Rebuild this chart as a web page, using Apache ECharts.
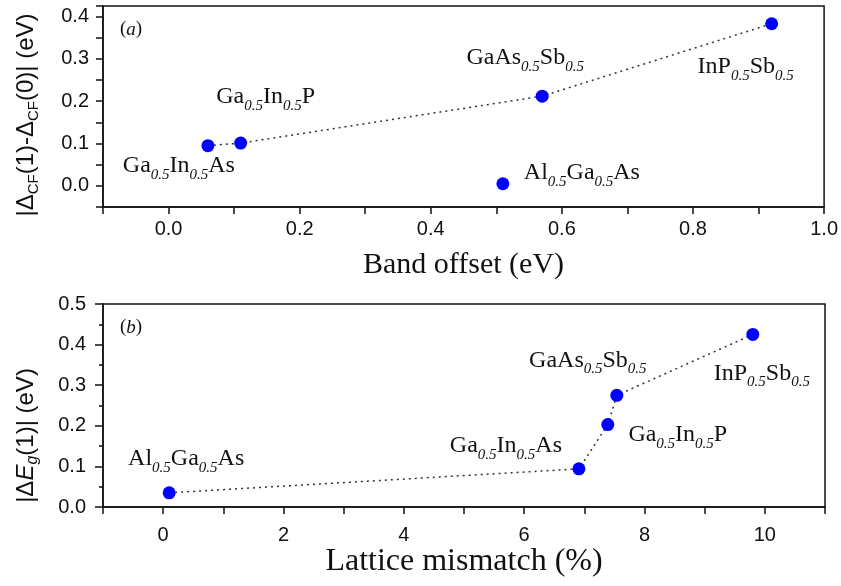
<!DOCTYPE html>
<html>
<head>
<meta charset="utf-8">
<script src="https://cdn.jsdelivr.net/npm/echarts@6/dist/echarts.min.js"></script>
<style>
  html, body { margin: 0; padding: 0; background: #fff; }
  #chart { width: 841px; height: 586px; }
</style>
</head>
<body>
<div id="chart"></div>
<script>
// (a) crystal-field splitting change vs band offset
const topMaterials = ['Ga_{0.5}In_{0.5}As', 'Ga_{0.5}In_{0.5}P', 'GaAs_{0.5}Sb_{0.5}', 'InP_{0.5}Sb_{0.5}', 'Al_{0.5}Ga_{0.5}As'];
const topBandOffset = [0.06, 0.11, 0.57, 0.92, 0.51];
const topDeltaCF = [0.095, 0.101, 0.212, 0.383, 0.005];
const topConnected = [true, true, true, true, false];

// (b) band gap change vs lattice mismatch
const bottomMaterials = ['Al_{0.5}Ga_{0.5}As', 'Ga_{0.5}In_{0.5}As', 'Ga_{0.5}In_{0.5}P', 'GaAs_{0.5}Sb_{0.5}', 'InP_{0.5}Sb_{0.5}'];
const bottomMismatch = [0.1, 6.91, 7.39, 7.54, 9.80];
const bottomDeltaEg = [0.035, 0.094, 0.203, 0.275, 0.425];

// label placement relative to each point (px), same order as the material arrays
const topLabelOffsets = [[-29, 20], [25, -46], [-17, -38], [-26, 43], [79, -11]];
const bottomLabelOffsets = [[17, -34], [-73, -23], [70, 10], [-29, -35], [9, 39]];

const serif = 'Liberation Serif';
const sans = 'Liberation Sans';
const ink = '#111';
const dotBlue = '#0000ff';

function richName(str) {
    return str.split(/(_\{[^}]*\})/).filter(Boolean)
        .map((p) => (p.startsWith('_{') ? `{s|${p.slice(2, -1)}}` : `{m|${p}}`))
        .join('');
}

const nameRich = {
    m: { fontFamily: serif, fontSize: 24, color: ink },
    s: { fontFamily: serif, fontSize: 15, fontStyle: 'italic', color: ink, padding: [18, 0, 0, 0] },
};

function point(x, y, name, offset) {
    return {
        value: [x, y],
        label: {
            show: true,
            position: 'inside',
            align: 'center',
            verticalAlign: 'middle',
            offset,
            color: ink,
            formatter: richName(name),
            rich: nameRich,
        },
    };
}

const topLine = [];
const topLoose = [];
topMaterials.forEach((m, i) => {
    const p = point(topBandOffset[i], topDeltaCF[i], m, topLabelOffsets[i]);
    (topConnected[i] ? topLine : topLoose).push(p);
});
const bottomLine = bottomMaterials.map((m, i) =>
    point(bottomMismatch[i], bottomDeltaEg[i], m, bottomLabelOffsets[i]));

const isStep = (v, step) => Math.abs(v / step - Math.round(v / step)) < 1e-6;

const axisCommon = {
    type: 'value',
    splitLine: { show: false },
    axisLine: { show: true, onZero: false, lineStyle: { color: ink, width: 1.5 } },
    axisTick: { show: true, length: 7, lineStyle: { color: ink, width: 1.5 } },
    axisLabel: { fontFamily: sans, fontSize: 20, color: ink },
};

const markerSeries = (data, xi, yi, withLine) => ({
    type: withLine ? 'line' : 'scatter',
    xAxisIndex: xi,
    yAxisIndex: yi,
    data,
    symbol: 'circle',
    symbolSize: 13,
    itemStyle: { color: dotBlue, opacity: 1 },
    lineStyle: { color: '#333', width: 1.5, type: [2, 4] },
    z: 3,
});

const chart = echarts.init(document.getElementById('chart'), null, { renderer: 'canvas' });

const option = {
    backgroundColor: '#fff',
    animation: false,
    grid: [
        { left: 103, right: 16, top: 6, height: 201, show: true, borderColor: ink, borderWidth: 1.5 },
        { left: 103, right: 16, top: 304, bottom: 79, show: true, borderColor: ink, borderWidth: 1.5 },
    ],
    xAxis: [
        {
            ...axisCommon,
            gridIndex: 0,
            min: -0.1,
            max: 1.0,
            interval: 0.1,
            axisLabel: {
                ...axisCommon.axisLabel,
                margin: 12,
                formatter: (v) => (v >= 0 && isStep(v, 0.2) ? v.toFixed(1) : ''),
            },
            name: 'Band offset (eV)',
            nameLocation: 'middle',
            nameGap: 43,
            nameTextStyle: { fontFamily: serif, fontSize: 30, color: ink },
        },
        {
            ...axisCommon,
            gridIndex: 1,
            min: -1,
            max: 11,
            interval: 1,
            axisLabel: {
                ...axisCommon.axisLabel,
                margin: 18,
                formatter: (v) => (v >= 0 && v <= 10 && isStep(v, 2) ? String(v) : ''),
            },
            name: 'Lattice mismatch (%)',
            nameLocation: 'middle',
            nameGap: 35,
            nameTextStyle: { fontFamily: serif, fontSize: 32, color: ink },
        },
    ],
    yAxis: [
        {
            ...axisCommon,
            gridIndex: 0,
            min: -0.05,
            max: 0.425,
            interval: 0.05,
            axisLabel: {
                ...axisCommon.axisLabel,
                margin: 14,
                formatter: (v) => (v >= 0 && isStep(v, 0.1) ? v.toFixed(1) : ''),
            },
            name: '{t||Δ}{u|CF}{t|(1)-Δ}{u|CF}{t|(0)| (eV)}',
            nameLocation: 'middle',
            nameGap: 62,
            nameTextStyle: {
                padding: [0, 17, 0, 0],
                rich: {
                    t: { fontFamily: sans, fontSize: 24, color: ink },
                    u: { fontFamily: sans, fontSize: 15, color: ink, padding: [14, 0, 0, 0] },
                },
            },
        },
        {
            ...axisCommon,
            gridIndex: 1,
            min: 0,
            max: 0.5,
            interval: 0.1,
            minorTick: { show: true, splitNumber: 2, length: 4, lineStyle: { color: ink, width: 1.5 } },
            axisTick: { show: true, length: 8, lineStyle: { color: ink, width: 1.5 } },
            axisLabel: {
                ...axisCommon.axisLabel,
                margin: 17,
                formatter: (v) => v.toFixed(1),
            },
            name: '{t||Δ}{i|E}{g|g}{t|(1)| (eV)}',
            nameLocation: 'middle',
            nameGap: 62,
            nameTextStyle: {
                padding: [0, 60, 0, 0],
                rich: {
                    t: { fontFamily: sans, fontSize: 24, color: ink },
                    i: { fontFamily: sans, fontSize: 24, fontStyle: 'italic', color: ink },
                    g: { fontFamily: sans, fontSize: 16, fontStyle: 'italic', color: ink, padding: [14, 0, 0, 0] },
                },
            },
        },
    ],
    graphic: [
        {
            type: 'text', left: 120, top: 20,
            style: {
                text: '{p|(}{i|a}{p|)}',
                rich: {
                    p: { fontFamily: serif, fontSize: 19, fill: ink },
                    i: { fontFamily: serif, fontSize: 19, fontStyle: 'italic', fill: ink },
                },
            },
        },
        {
            type: 'text', left: 120, top: 318,
            style: {
                text: '{p|(}{i|b}{p|)}',
                rich: {
                    p: { fontFamily: serif, fontSize: 19, fill: ink },
                    i: { fontFamily: serif, fontSize: 19, fontStyle: 'italic', fill: ink },
                },
            },
        },
    ],
    series: [
        markerSeries(topLine, 0, 0, true),
        markerSeries(topLoose, 0, 0, false),
        markerSeries(bottomLine, 1, 1, true),
    ],
};

chart.setOption(option);
</script>
</body>
</html>
